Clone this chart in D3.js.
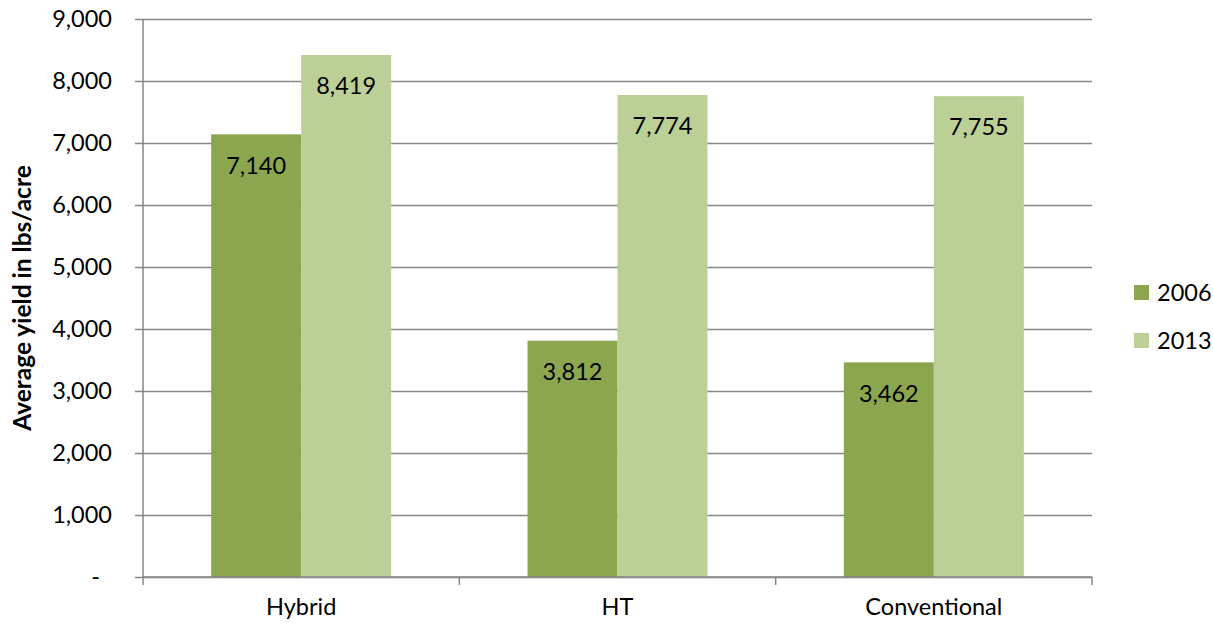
<!DOCTYPE html>
<html>
<head>
<meta charset="utf-8">
<script src="https://cdn.jsdelivr.net/npm/d3@7"></script>
<style>
  body { margin: 0; background: #fff; }
  text { font-family: Lato, "Open Sans", sans-serif; fill: #000; }
</style>
</head>
<body>
<div id="chart"></div>
<script>
var categories = ["Hybrid", "HT", "Conventional"];
var years = ["2006", "2013"];
var values2006 = [7140, 3812, 3462];
var values2013 = [8419, 7774, 7755];
var yTicks = [0, 1000, 2000, 3000, 4000, 5000, 6000, 7000, 8000, 9000];

var width = 1213, height = 625;
var margin = {left: 143, right: 121, top: 19, bottom: 48};
var colors = {"2006": "#8ba64f", "2013": "#bbcf97"};
var fs = "23.5px";

var svg = d3.select("#chart").append("svg")
    .attr("width", width)
    .attr("height", height);

var x0 = d3.scaleBand().domain(categories)
    .range([margin.left, width - margin.right])
    .paddingInner(0.431).paddingOuter(0.2155);
var x1 = d3.scaleBand().domain(years).range([0, x0.bandwidth()]);
var y = d3.scaleLinear().domain([0, 9000]).range([height - margin.bottom, margin.top]);

var fmt = d3.format(",");

// gridlines + y ticks
var yAxis = svg.append("g")
    .attr("transform", "translate(" + margin.left + ",0)")
    .call(d3.axisLeft(y).tickValues(yTicks).tickSize(8)
        .tickFormat(d => d === 0 ? "-" : fmt(d)).tickPadding(23));
yAxis.select(".domain").remove();
yAxis.selectAll(".tick line").attr("stroke", "#868686").attr("stroke-width", 1.5)
    .attr("x2", width - margin.right - margin.left).attr("x1", -8);
yAxis.selectAll(".tick text").style("font-size", fs).style("font-family", "Lato, sans-serif")
    .attr("dx", d => d === 0 ? -12 : 0);

// bars
var rows = categories.map((c, i) => ({cat: c, vals: [
    {year: "2006", v: values2006[i]}, {year: "2013", v: values2013[i]}]}));

var groups = svg.selectAll(".grp").data(rows).enter().append("g")
    .attr("class", "grp")
    .attr("transform", d => "translate(" + x0(d.cat) + ",0)");

groups.selectAll("rect").data(d => d.vals).enter().append("rect")
    .attr("x", d => x1(d.year))
    .attr("width", x1.bandwidth())
    .attr("y", d => y(d.v))
    .attr("height", d => y(0) - y(d.v))
    .attr("fill", d => colors[d.year]);

groups.selectAll(".lbl").data(d => d.vals).enter().append("text")
    .attr("class", "lbl")
    .attr("x", d => x1(d.year) + x1.bandwidth() / 2)
    .attr("y", d => y(d.v) + 31)
    .attr("dy", "0.35em")
    .attr("text-anchor", "middle")
    .style("font-size", fs)
    .text(d => fmt(d.v));

// y axis line
svg.append("line")
    .attr("x1", margin.left).attr("x2", margin.left)
    .attr("y1", margin.top).attr("y2", y(0))
    .attr("stroke", "#868686").attr("stroke-width", 1.5);

// x axis
var xAxisY = y(0);
svg.append("line")
    .attr("x1", margin.left).attr("x2", width - margin.right)
    .attr("y1", xAxisY).attr("y2", xAxisY)
    .attr("stroke", "#868686").attr("stroke-width", 1.5);

var step = x0.step();
var bounds = d3.range(categories.length + 1).map(i => margin.left + i * step);
svg.selectAll(".xtick").data(bounds).enter().append("line")
    .attr("x1", d => d).attr("x2", d => d)
    .attr("y1", xAxisY).attr("y2", xAxisY + 8)
    .attr("stroke", "#868686").attr("stroke-width", 1.5);

svg.selectAll(".xlbl").data(categories).enter().append("text")
    .attr("x", d => x0(d) + x0.bandwidth() / 2)
    .attr("y", 615)
    .attr("text-anchor", "middle")
    .style("font-size", fs)
    .text(d => d);

// y title
svg.append("text")
    .attr("transform", "translate(31," + (y(4500)) + ") rotate(-90)")
    .attr("text-anchor", "middle")
    .style("font-size", "24.5px")
    .style("font-weight", "bold")
    .text("Average yield in lbs/acre");

// legend
var legend = svg.selectAll(".leg").data(years).enter().append("g")
    .attr("transform", (d, i) => "translate(1134," + (285 + i * 48) + ")");
legend.append("rect").attr("width", 15).attr("height", 15)
    .attr("fill", d => colors[d]);
legend.append("text").attr("x", 23).attr("y", 7.5).attr("dy", "0.35em")
    .style("font-size", fs)
    .text(d => d);
</script>
</body>
</html>
